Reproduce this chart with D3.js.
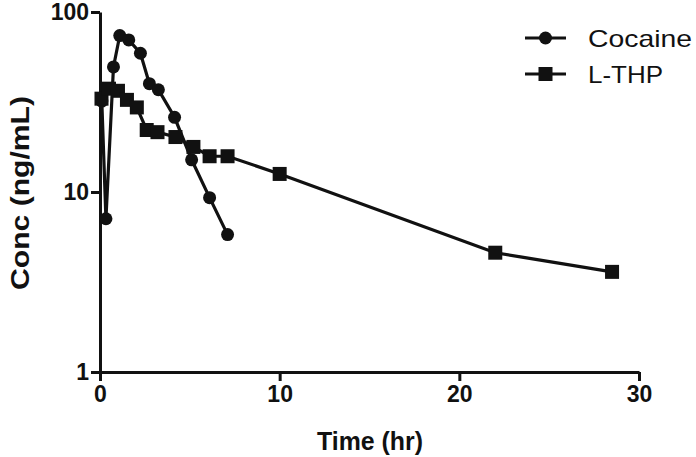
<!DOCTYPE html>
<html>
<head>
<meta charset="utf-8">
<script src="https://cdn.jsdelivr.net/npm/d3@7"></script>
<style>
  body { margin: 0; background: #fff; }
  svg { display: block; }
  text { font-family: Arial, "Liberation Sans", sans-serif; fill: #111; }
</style>
</head>
<body>
<svg id="chart" width="696" height="457"></svg>
<script>
// time (hr) and concentration (ng/mL)
const cocaineTime = [0.1, 0.33, 0.75, 1.1, 1.6, 2.25, 2.75, 3.25, 4.15, 5.1, 6.1, 7.1];
const cocaineConc = [32, 7.1, 49.5, 74, 70, 59, 40, 37, 26, 15.1, 9.3, 5.8];

const lthpTime = [0.083, 0.5, 1.0, 1.5, 2.05, 2.6, 3.2, 4.2, 5.2, 6.1, 7.1, 10, 22, 28.5];
const lthpConc = [33, 37.5, 36.5, 32.5, 29.5, 22.1, 21.5, 20.2, 17.8, 15.8, 15.8, 12.6, 4.6, 3.6];

const xTicks = [0, 10, 20, 30];
const yTicks = [1, 10, 100];
const seriesNames = ["Cocaine", "L-THP"];

const svg = d3.select("#chart");
const ink = "#111";

const x = d3.scaleLinear().domain([0, 30]).range([100, 639]);
const y = d3.scaleLog().domain([1, 100]).range([372, 12]);

const series = [
    { name: seriesNames[0], shape: "circle", pts: cocaineTime.map((t, i) => ({ t: t, c: cocaineConc[i] })) },
    { name: seriesNames[1], shape: "square", pts: lthpTime.map((t, i) => ({ t: t, c: lthpConc[i] })) }
];

// axes
const yAxis = svg.append("g")
    .attr("transform", "translate(" + x(0) + ",0)")
    .call(d3.axisLeft(y).tickValues(yTicks).tickFormat(d3.format("d")).tickSize(9).tickSizeOuter(0).tickPadding(2));
const xAxis = svg.append("g")
    .attr("transform", "translate(0," + y(1) + ")")
    .call(d3.axisBottom(x).tickValues(xTicks).tickSize(9).tickSizeOuter(0).tickPadding(5));

[yAxis, xAxis].forEach(ax => {
    ax.select(".domain").attr("stroke", ink).attr("stroke-width", 3);
    ax.selectAll(".tick line").attr("stroke", ink).attr("stroke-width", 3);
    ax.selectAll(".tick text")
        .attr("fill", ink)
        .style("font-size", "23px")
        .style("font-weight", "bold");
});

// lines and markers
const line = d3.line().x(d => x(d.t)).y(d => y(d.c));

function drawMarker(g, shape, cx, cy) {
    if (shape === "circle") {
        g.append("circle").attr("cx", cx).attr("cy", cy).attr("r", 6.5).attr("fill", ink);
    } else {
        g.append("rect").attr("x", cx - 7).attr("y", cy - 7).attr("width", 14).attr("height", 14).attr("fill", ink);
    }
}

series.forEach(s => {
    const g = svg.append("g");
    g.append("path")
        .datum(s.pts)
        .attr("fill", "none")
        .attr("stroke", ink)
        .attr("stroke-width", 3.2)
        .attr("d", line);
    s.pts.forEach(p => drawMarker(g, s.shape, x(p.t), y(p.c)));
});

// axis titles
svg.append("text")
    .attr("x", 370)
    .attr("y", 450)
    .attr("text-anchor", "middle")
    .attr("textLength", 106)
    .attr("lengthAdjust", "spacingAndGlyphs")
    .style("font-size", "25px")
    .style("font-weight", "bold")
    .text("Time (hr)");

svg.append("text")
    .attr("transform", "translate(29,193) rotate(-90)")
    .attr("text-anchor", "middle")
    .attr("textLength", 194)
    .attr("lengthAdjust", "spacingAndGlyphs")
    .style("font-size", "25px")
    .style("font-weight", "bold")
    .text("Conc (ng/mL)");

// legend
const legendY = [38, 74];
series.forEach((s, i) => {
    const g = svg.append("g").attr("transform", "translate(0," + legendY[i] + ")");
    g.append("line").attr("x1", 525).attr("x2", 566).attr("y1", 0).attr("y2", 0)
        .attr("stroke", ink).attr("stroke-width", 3.2);
    drawMarker(g, s.shape, 545.5, 0);
    g.append("text")
        .attr("x", 588)
        .attr("y", 0)
        .attr("dy", "0.36em")
        .attr("textLength", s.name === "Cocaine" ? 104 : 75)
        .attr("lengthAdjust", "spacingAndGlyphs")
        .style("font-size", "24px")
        .text(s.name);
});
</script>
</body>
</html>
